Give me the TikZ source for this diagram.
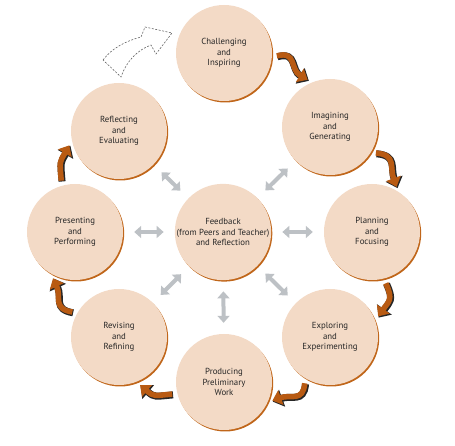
\documentclass[tikz,border=0pt]{standalone}
\usepackage{fontspec}
\setmainfont{PT Sans}
\usetikzlibrary{arrows.meta,shadows}
\definecolor{peach}{HTML}{F3DAC6}
\definecolor{rim}{HTML}{C0661A}
\definecolor{rust}{HTML}{B85A12}
\definecolor{mist}{HTML}{BDC1C5}
\begin{document}
\begin{tikzpicture}
	[x=1pt,y=1pt,
	 stage/.style={circle,fill=peach,minimum size=96pt,inner sep=0pt,align=center,
	   font=\fontsize{8.8}{10.4}\selectfont,text=black!85,
	   general shadow={fill=rim,shadow xshift=1.2pt,shadow yshift=-1.5pt}},
	 link/.style={draw=mist,line width=4pt,{Triangle[width=12pt,length=7pt]}-{Triangle[width=12pt,length=7pt]},shorten <=11pt,shorten >=11pt},
	 turn/.style={draw=rust,line width=5.5pt,-{Triangle[width=15pt,length=9pt]},shorten <=5pt,shorten >=5pt,looseness=1.4},
	 turnrim/.style={draw=black!85,line width=7pt,-{Triangle[width=17.5pt,length=10pt]},shorten <=5pt,shorten >=4.5pt,looseness=1.4,transform canvas={shift={(0.8pt,-0.8pt)}}}]
    \useasboundingbox (0,0) rectangle (455,446);
    \node[stage] (chal) at (224,393) {Challenging\\and\\Inspiring};
    \node[stage] (imag) at (330,319) {Imagining\\and\\Generating};
    \node[stage] (plan) at (372,214) {Planning\\and\\Focusing};
    \node[stage] (expl) at (330,109) {Exploring\\and\\Experimenting};
    \node[stage] (prod) at (224,64) {Producing\\Preliminary\\Work};
    \node[stage] (rev) at (119,109) {Revising\\and\\Refining};
    \node[stage] (pres) at (75,214) {Presenting\\and\\Performing};
    \node[stage] (refl) at (119,315) {Reflecting\\and\\Evaluating};
    \node[stage] (fb) at (223,214) {Feedback\\(from Peers and Teacher)\\and Reflection};
    % feedback links
    \draw[link] (fb) -- (refl);
    \draw[link] (fb) -- (imag);
    \draw[link] (fb) -- (pres);
    \draw[link] (fb) -- (plan);
    \draw[link] (fb) -- (rev);
    \draw[link] (fb) -- (prod);
    \draw[link] (fb) -- (expl);
    % cycle arrows
    \foreach \a/\p/\b/\q/\o/\i in {chal/-5/imag/112/15/150, imag/-32/plan/57/-5/110,
        plan/-76/expl/20/-65/55, expl/-121/prod/-25/-95/20, prod/194/rev/-69/185/-40,
        rev/150/pres/-120/170/-65, pres/106/refl/192/95/-120} {
      \draw[turnrim] (\a.\p) to[out=\o,in=\i] (\b.\q);
      \draw[turn] (\a.\p) to[out=\o,in=\i] (\b.\q);
    }
    % open step back to the start
    \draw[black!60,dashed,line width=0.6pt,dash pattern=on 2pt off 1.5pt]
      (103,386) .. controls (112,398) and (126,405) .. (141,409)
      -- (145,419) -- (172,413) -- (156,392) -- (151,401)
      .. controls (138,396) and (127,386) .. (121,369) -- cycle;
\end{tikzpicture}
\end{document}
